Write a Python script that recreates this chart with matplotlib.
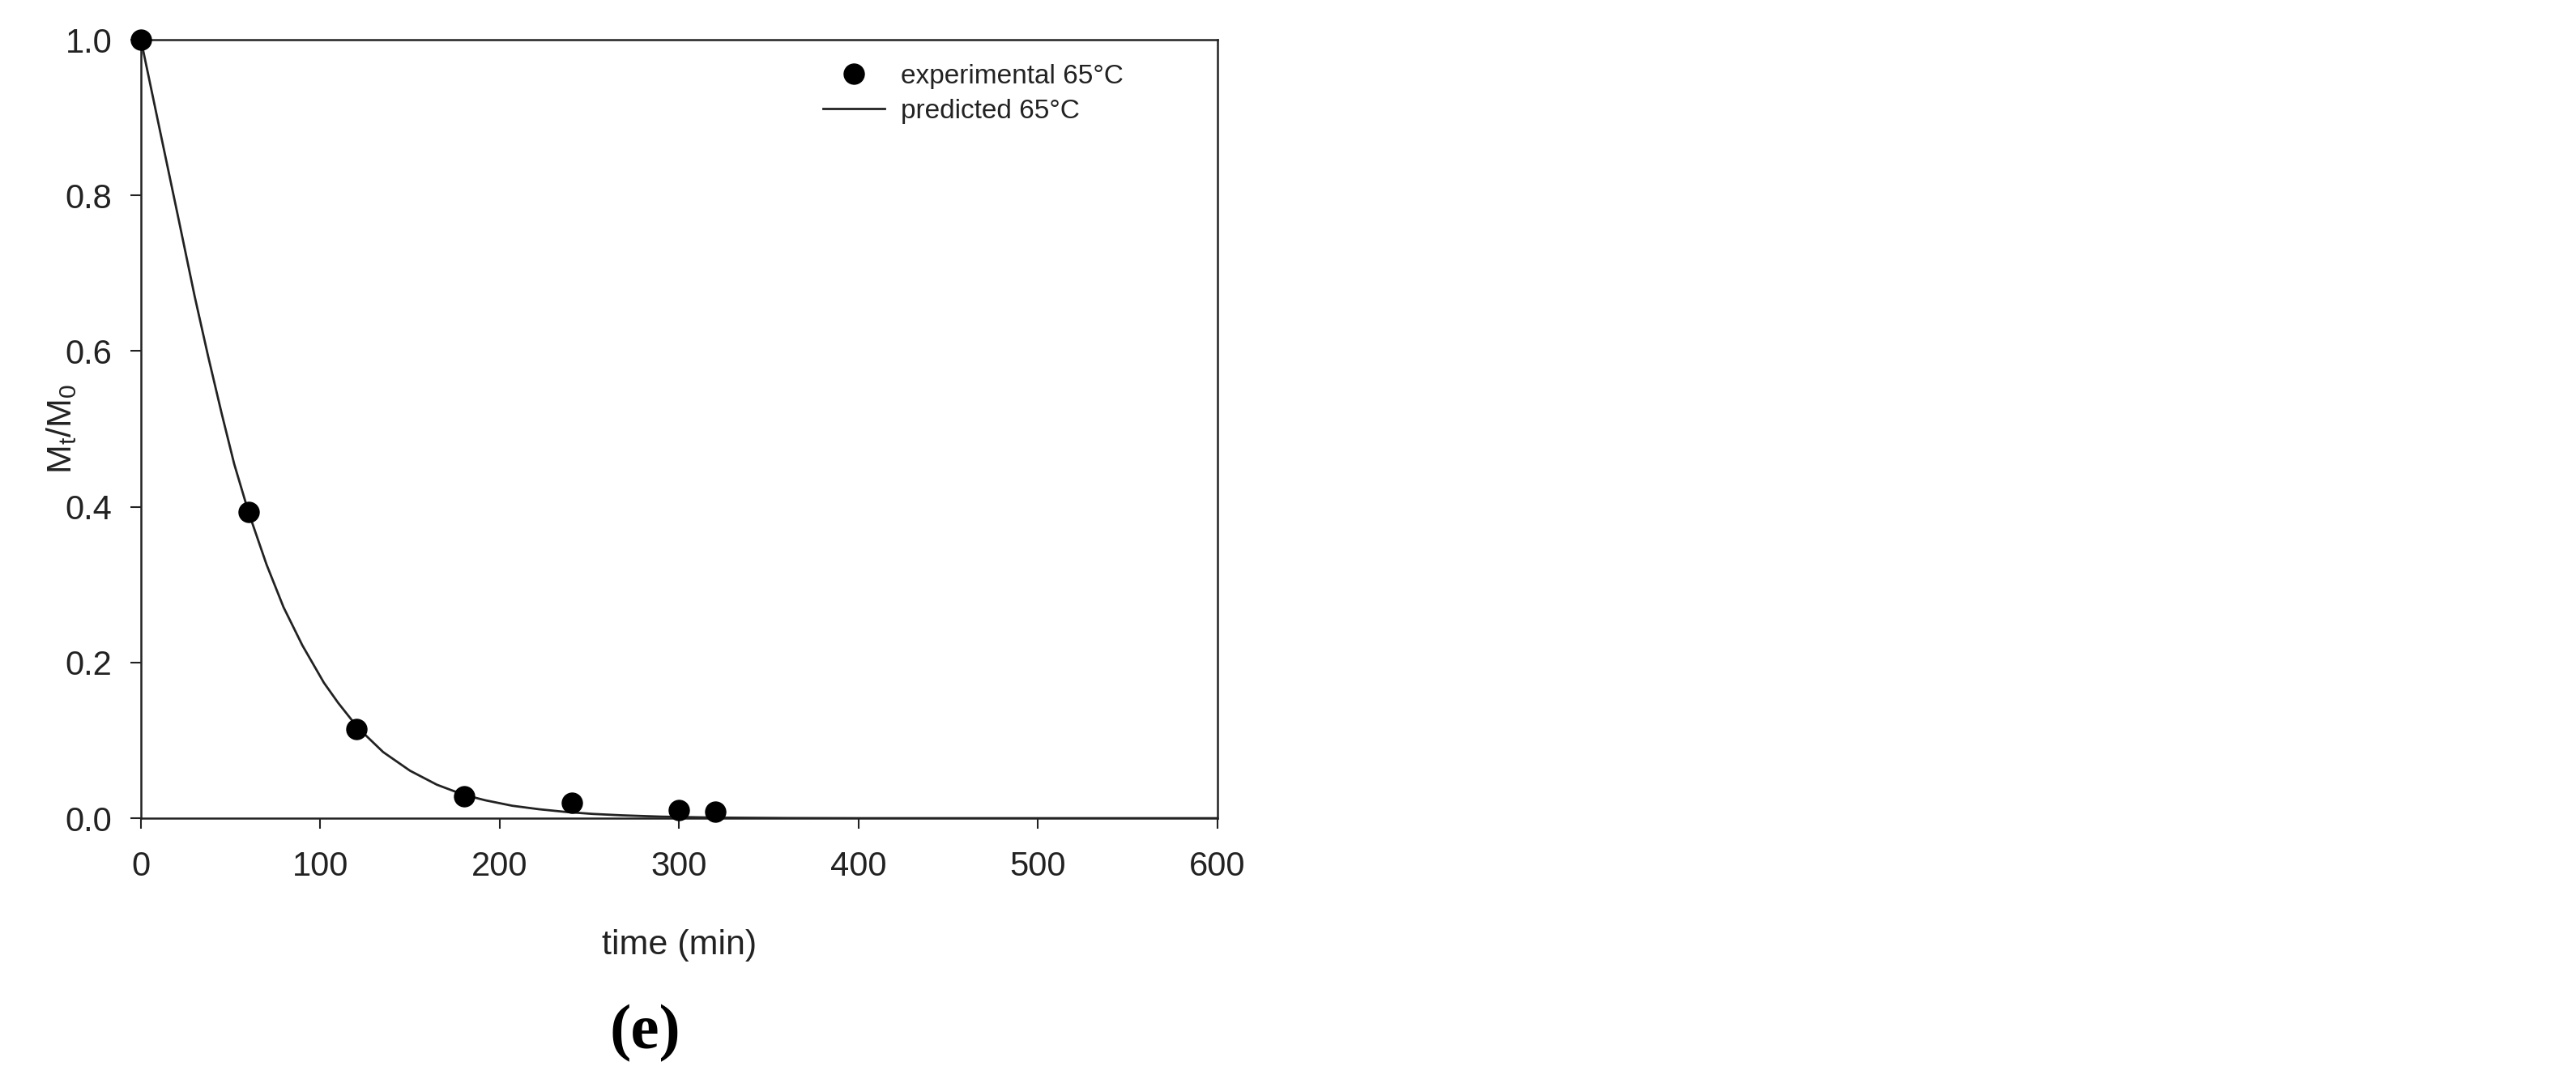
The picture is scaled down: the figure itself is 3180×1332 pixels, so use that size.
import matplotlib
matplotlib.use("Agg")
import matplotlib.pyplot as plt

plt.rcParams['font.family'] = ['Liberation Sans', 'DejaVu Sans']
plt.rcParams['mathtext.fontset'] = 'custom'
plt.rcParams['mathtext.rm'] = 'Liberation Sans'
plt.rcParams['mathtext.it'] = 'Liberation Sans'

# measured points
exp_t = [0, 60, 120, 180, 240, 300, 320]
exp_v = [1.0, 0.393, 0.114, 0.028, 0.020, 0.010, 0.008]

# model curve
pred_t = [0, 10, 20.5, 30, 37.5, 45, 52, 60, 70, 79.5, 90, 102, 110, 121, 135, 150, 165,
          180, 192, 207, 222, 237, 252, 268, 290, 320, 360, 400, 500, 600]
pred_v = [1.0, 0.89, 0.775, 0.67, 0.593, 0.52, 0.455, 0.393, 0.326, 0.271, 0.222, 0.174,
          0.148, 0.116, 0.085, 0.061, 0.043, 0.030, 0.023, 0.016, 0.0115, 0.008, 0.0055,
          0.0037, 0.002, 0.0008, 0.0002, 0.0, 0.0, 0.0]

x_ticks = [0, 100, 200, 300, 400, 500, 600]
y_ticks = [0.0, 0.2, 0.4, 0.6, 0.8, 1.0]

txt = '#222222'

fig = plt.figure(figsize=(31.8, 13.32), dpi=100)
ax = fig.add_axes([0.0547, 0.2417, 0.4179, 0.7215])

line, = ax.plot(pred_t, pred_v, color='#222222', lw=2.0, label='predicted 65°C', zorder=3,
                solid_joinstyle='round')
dots, = ax.plot(exp_t, exp_v, 'o', color='black', ms=18, ls='none',
                label='experimental 65°C', clip_on=False, zorder=5)

ax.set_xlim(0, 600)
ax.set_ylim(0, 1.0)
ax.set_xticks(x_ticks)
ax.set_yticks(y_ticks)
ax.set_xticklabels([str(v) for v in x_ticks])
ax.set_yticklabels(['%.1f' % v for v in y_ticks])

for s in ax.spines.values():
    s.set_linewidth(1.8)
    s.set_color('#222222')
ax.tick_params(axis='both', direction='out', length=9.5, width=1.5, colors='#222222',
               labelsize=30, labelcolor=txt)
ax.tick_params(axis='x', pad=19)
ax.tick_params(axis='y', pad=16)

ax.set_xlabel('time (min)', fontsize=31, color=txt)
ax.xaxis.set_label_coords(0.5, -0.1426)
ax.set_ylabel(r'$\mathregular{M_t/M_0}$', fontsize=31, color=txt)
ax.yaxis.set_label_coords(-0.058, 0.5)

ax.legend(handles=[dots, line], loc='upper left', bbox_to_anchor=(0.634, 0.969),
          frameon=False, fontsize=24, numpoints=1, borderpad=0, borderaxespad=0,
          handlelength=2.27, handletextpad=0.6, labelspacing=0.36, labelcolor=txt)

fig.text(0.2503, 0.042, '(e)', fontsize=57, fontweight='bold', family='Liberation Serif',
         ha='center', va='center', color='black')

fig.savefig('out.png', dpi=100, facecolor='white')
